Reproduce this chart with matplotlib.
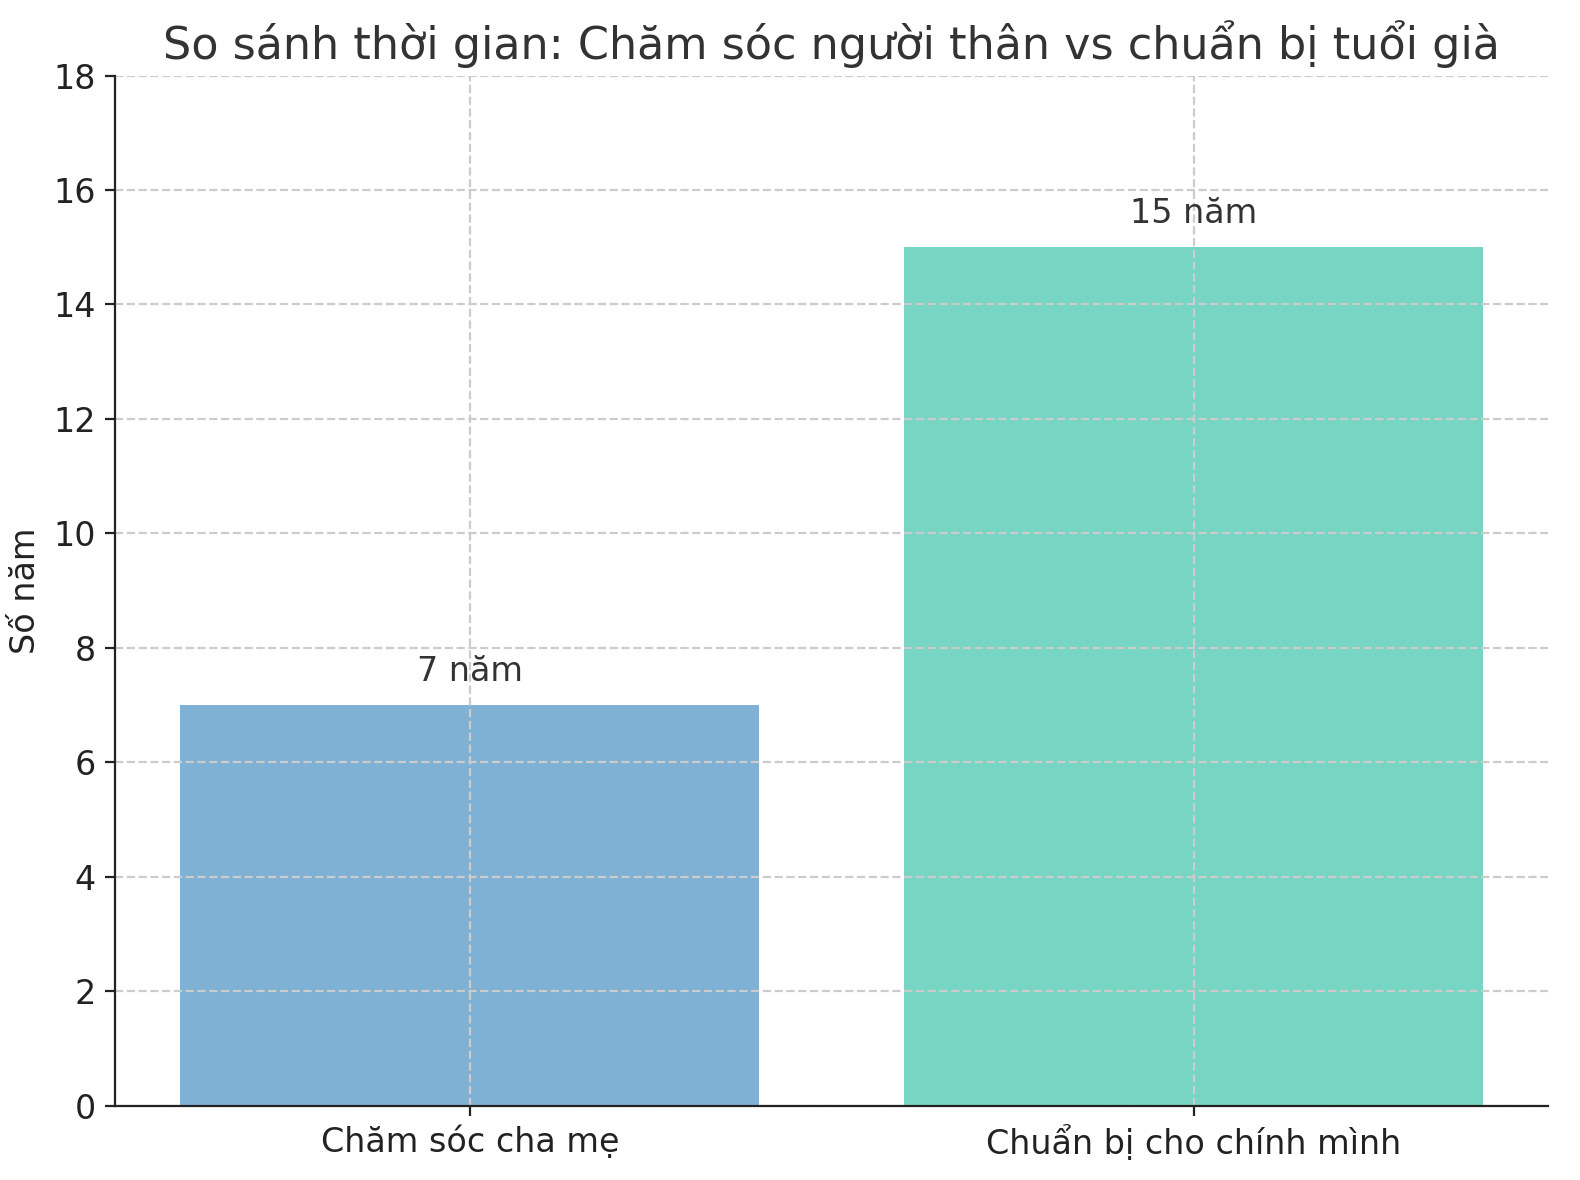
import matplotlib
matplotlib.use('Agg')
import matplotlib.pyplot as plt

categories = ['Chăm sóc cha mẹ', 'Chuẩn bị cho chính mình']
years = [7, 15]
bar_colors = ['#7fb1d4', '#77d6c3']
value_labels = ['7 năm', '15 năm']

plt.rcParams['font.family'] = ['DejaVu Sans']

fig, ax = plt.subplots(figsize=(7.9, 5.9), dpi=200)
fig.subplots_adjust(left=0.073, right=0.98, top=0.936, bottom=0.063)

bars = ax.bar(categories, years, color=bar_colors, width=0.8)
for bar, lab in zip(bars, value_labels):
    ax.text(bar.get_x() + bar.get_width() / 2, bar.get_height() + 0.3, lab,
            ha='center', va='bottom', fontsize=12, color='#333333')

ax.set_ylim(0, 18)
ax.set_ylabel('Số năm', fontsize=12, color='#222222')
ax.set_title('So sánh thời gian: Chăm sóc người thân vs chuẩn bị tuổi già',
             fontsize=16, color='#333333', pad=6)
ax.tick_params(labelsize=12, colors='#222222')
ax.grid(True, linestyle='--', color='#cccccc', linewidth=0.8)
for s in ['top', 'right']:
    ax.spines[s].set_visible(False)
for s in ['left', 'bottom']:
    ax.spines[s].set_color('#222222')
    ax.spines[s].set_zorder(3)

fig.savefig('out.png', dpi=200)
